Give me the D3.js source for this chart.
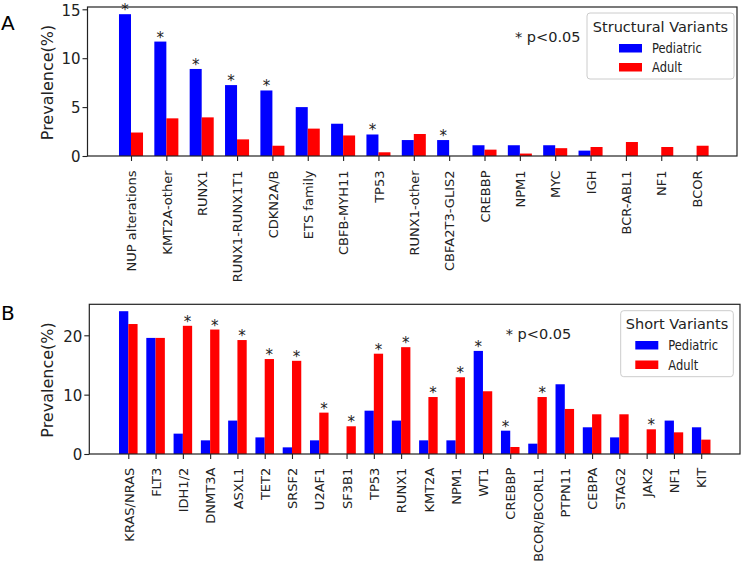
<!DOCTYPE html>
<html>
<head>
<meta charset="utf-8">
<script src="https://cdn.jsdelivr.net/npm/d3@7"></script>
<style>
  html, body { margin: 0; padding: 0; background: #fff; }
  svg { display: block; font-family: "DejaVu Sans", sans-serif; }
</style>
</head>
<body>
<svg id="chart" width="742" height="563"></svg>
<script>
// ---------- DATA ----------
const svCategories = ["NUP alterations","KMT2A-other","RUNX1","RUNX1-RUNX1T1","CDKN2A/B","ETS family","CBFB-MYH11","TP53","RUNX1-other","CBFA2T3-GLIS2","CREBBP","NPM1","MYC","IGH","BCR-ABL1","NF1","BCOR"];
const svPediatric = [14.5, 11.7, 8.9, 7.25, 6.7, 5.0, 3.3, 2.2, 1.63, 1.63, 1.1, 1.1, 1.1, 0.55, 0, 0, 0];
const svAdult     = [2.4, 3.85, 3.95, 1.7, 1.05, 2.8, 2.1, 0.38, 2.25, 0, 0.65, 0.25, 0.8, 0.92, 1.43, 0.92, 1.05];
const svSignificant = [1,1,1,1,1,0,0,1,0,1,0,0,0,0,0,0,0];
const svYTicks = [0, 5, 10, 15];

const shCategories = ["KRAS/NRAS","FLT3","IDH1/2","DNMT3A","ASXL1","TET2","SRSF2","U2AF1","SF3B1","TP53","RUNX1","KMT2A","NPM1","WT1","CREBBP","BCOR/BCORL1","PTPN11","CEBPA","STAG2","JAK2","NF1","KIT"];
const shPediatric = [24.06, 19.56, 3.43, 2.3, 5.63, 2.8, 1.12, 2.3, 0, 7.3, 5.63, 2.3, 2.3, 17.37, 3.93, 1.74, 11.75, 4.5, 2.8, 0, 5.63, 4.5];
const shAdult     = [21.9, 19.56, 21.6, 20.97, 19.2, 16.0, 15.7, 6.97, 4.67, 16.9, 18.0, 9.6, 12.93, 10.57, 1.18, 9.6, 7.59, 6.69, 6.69, 4.16, 3.65, 2.42];
const shSignificant = [0,0,1,1,1,1,1,1,1,1,1,1,1,1,1,1,0,0,0,1,0,0];
const shYTicks = [0, 10, 20];

const seriesNames = ["Pediatric", "Adult"];
const seriesColors = ["#0000ff", "#ff0000"];

// ---------- DRAW ----------
const svg = d3.select("#chart");

function drawPanel(cfg) {
  const g = svg.append("g");
  const n = cfg.cats.length;
  const x = d3.scaleLinear().domain([0, n - 1]).range(cfg.xRange);
  const y = d3.scaleLinear().domain([0, cfg.yRef]).range(cfg.yRange);
  const step = x(1) - x(0);
  const bw = step * 0.34;
  const f = cfg.frame;

  // bars
  const series = [cfg.ped, cfg.adult];
  series.forEach((vals, s) => {
    g.append("g").selectAll("rect").data(vals).join("rect")
      .attr("x", (d, i) => x(i) + (s === 0 ? -bw : 0))
      .attr("width", bw)
      .attr("y", d => y(d))
      .attr("height", d => y(0) - y(d))
      .attr("fill", seriesColors[s]);
  });

  // significance stars
  g.append("g").selectAll("text")
    .data(cfg.sig.map((d, i) => ({ d, i })).filter(o => o.d))
    .join("text")
    .attr("x", o => {
      const p = cfg.ped[o.i], a = cfg.adult[o.i];
      return p >= a ? x(o.i) - bw / 2 : x(o.i) + bw / 2;
    })
    .attr("y", o => y(Math.max(cfg.ped[o.i], cfg.adult[o.i])) + 1)
    .attr("text-anchor", "middle")
    .attr("font-size", 15)
    .attr("fill", "#222")
    .text("*");

  // frame
  g.append("rect")
    .attr("x", f.l).attr("y", f.t)
    .attr("width", f.r - f.l).attr("height", f.b - f.t)
    .attr("fill", "none").attr("stroke", "#222").attr("stroke-width", 1.2);

  // y axis
  const ya = g.append("g").attr("transform", `translate(${f.l},0)`)
    .call(d3.axisLeft(y).tickValues(cfg.yTicks).tickSize(5).tickPadding(2).tickFormat(d3.format("d")));
  ya.select(".domain").remove();
  ya.selectAll(".tick line").attr("stroke", "#222").attr("stroke-width", 1.1);
  ya.selectAll(".tick text").attr("font-size", 15).attr("font-family", "DejaVu Sans")
    .attr("fill", "#222").attr("dy", "0.38em");

  // x axis
  const xa = g.append("g").attr("transform", `translate(0,${f.b})`)
    .call(d3.axisBottom(x).tickValues(d3.range(n)).tickSize(5).tickFormat(i => cfg.cats[i]));
  xa.select(".domain").remove();
  xa.selectAll(".tick line").attr("stroke", "#222").attr("stroke-width", 1.1);
  xa.selectAll(".tick text")
    .attr("font-size", 13).attr("font-family", "DejaVu Sans").attr("fill", "#222")
    .attr("x", null).attr("y", null).attr("dy", null)
    .attr("text-anchor", "end")
    .attr("transform", `translate(4.7,${cfg.labelOffset}) rotate(-90)`);

  // y label
  g.append("text")
    .attr("transform", `translate(53,${cfg.yLabelY}) rotate(-90)`)
    .attr("text-anchor", "middle")
    .attr("font-size", 16).attr("fill", "#222")
    .text("Prevalence(%)");

  // panel letter
  g.append("text").attr("x", 1).attr("y", cfg.letterY)
    .attr("font-size", 20).attr("fill", "#000").text(cfg.letter);

  // p-value note
  g.append("text").attr("x", cfg.pNote[0]).attr("y", cfg.pNote[1])
    .attr("font-size", 14.5).attr("fill", "#222").text("* p<0.05");

  // legend
  const L = cfg.legend;
  const lg = g.append("g");
  lg.append("rect").attr("x", L.x).attr("y", L.y).attr("width", L.w).attr("height", L.h)
    .attr("rx", 3).attr("fill", "#fff").attr("fill-opacity", 0.85)
    .attr("stroke", "#cccccc").attr("stroke-width", 1);
  lg.append("text").attr("x", L.x + L.w / 2).attr("y", L.titleY)
    .attr("text-anchor", "middle").attr("font-size", 14.5).attr("fill", "#222").text(cfg.title);
  seriesNames.forEach((name, s) => {
    lg.append("rect").attr("x", L.patchX).attr("y", L.rowY[s] - 4).attr("width", 23).attr("height", 8.5)
      .attr("fill", seriesColors[s]);
    lg.append("text")
      .attr("transform", `translate(${L.patchX + 33},${L.rowY[s] + 5}) scale(0.82,1)`)
      .attr("font-size", 14).attr("fill", "#222").text(name);
  });
}

drawPanel({
  cats: svCategories, ped: svPediatric, adult: svAdult, sig: svSignificant, yTicks: svYTicks,
  xRange: [131, 696.6], yRef: 15, yRange: [156, 9.3],
  frame: { l: 87.5, r: 737, t: 7, b: 156 },
  labelOffset: 14.5, yLabelY: 82.5, letter: "A", letterY: 30,
  pNote: [515, 41.5], title: "Structural Variants",
  legend: { x: 587, y: 13, w: 147, h: 66, titleY: 31.5, patchX: 619, rowY: [48, 67] }
});

drawPanel({
  cats: shCategories, ped: shPediatric, adult: shAdult, sig: shSignificant, yTicks: shYTicks,
  xRange: [128.3, 701.2], yRef: 20, yRange: [454, 335.3],
  frame: { l: 89.3, r: 740, t: 304.3, b: 454 },
  labelOffset: 13.7, yLabelY: 380, letter: "B", letterY: 320,
  pNote: [505.7, 338.5], title: "Short Variants",
  legend: { x: 620.7, y: 310.7, w: 112.6, h: 66, titleY: 329.3, patchX: 635.3, rowY: [345, 364.5] }
});
</script>
</body>
</html>
